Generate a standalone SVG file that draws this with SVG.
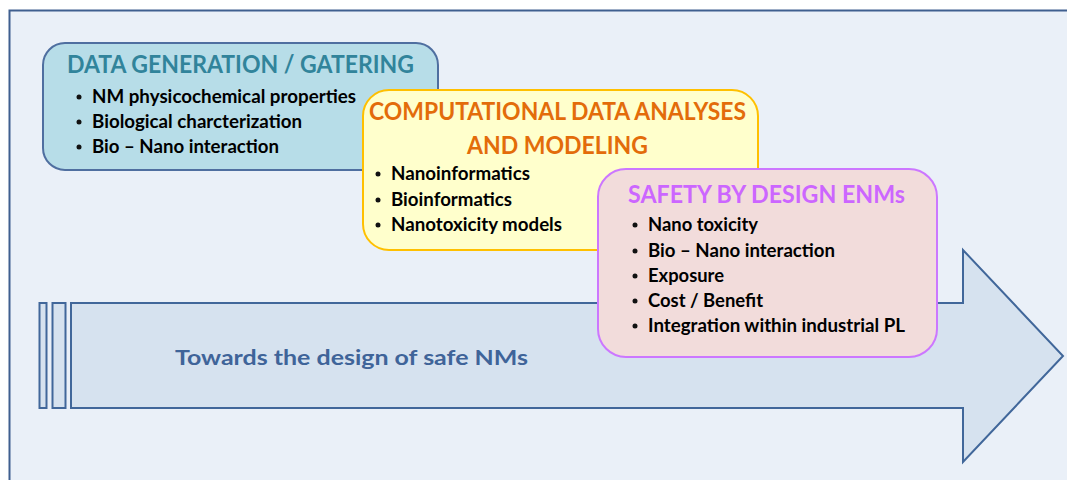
<svg xmlns="http://www.w3.org/2000/svg" width="1067" height="480" viewBox="0 0 1067 480">
<style>
text{font-family:Lato,"Open Sans","Liberation Sans",sans-serif;font-weight:bold}
.item{font-size:19px;fill:#000}
.dot{fill:#111}
.t1{font-size:24px;fill:#31849B}
.t2{font-size:25px;fill:#E36C0A}
.t3{font-size:24px;fill:#CC66FF}
</style>
<rect x="0" y="0" width="1067" height="480" fill="#fff"/>
<rect x="9.5" y="10.5" width="1070" height="480" fill="#EAF0F8" stroke="#3F5F8F" stroke-width="2"/>
<g id="connectors">
<g id="arrow" fill="#D6E2EF" stroke="#41679A" stroke-width="2">
<rect x="39.5" y="303" width="7" height="105"/>
<rect x="52.5" y="303" width="13" height="105"/>
<path d="M71 303 H963 V250 L1063 356 L963 462 V408 H71 Z"/>
</g>
<text x="175" y="365" font-size="21" fill="#3F6499" textLength="353" lengthAdjust="spacingAndGlyphs">Towards the design of safe NMs</text>
</g>
<g id="node-data">
<rect x="43" y="43" width="395" height="127" rx="22" fill="#B7DDE8" stroke="#4F6FA0" stroke-width="2"/>
<text class="t1" x="67" y="73" textLength="347" lengthAdjust="spacingAndGlyphs">DATA GENERATION / GATERING</text>
<circle class="dot" cx="79" cy="97" r="2.5"/>
<circle class="dot" cx="79" cy="122" r="2.5"/>
<circle class="dot" cx="79" cy="147" r="2.5"/>
<text class="item" x="92" y="103" textLength="264" lengthAdjust="spacingAndGlyphs">NM physicochemical properties</text>
<text class="item" x="92" y="128" textLength="210" lengthAdjust="spacingAndGlyphs">Biological charcterization</text>
<text class="item" x="92" y="153" textLength="187" lengthAdjust="spacingAndGlyphs">Bio – Nano interaction</text>
</g>
<g id="node-computational">
<rect x="363" y="90" width="395" height="160" rx="26" fill="#FFFFCC" stroke="#FFC000" stroke-width="2"/>
<text class="t2" x="369" y="120" textLength="377" lengthAdjust="spacingAndGlyphs">COMPUTATIONAL DATA ANALYSES</text>
<text class="t2" x="467" y="154" textLength="181" lengthAdjust="spacingAndGlyphs">AND MODELING</text>
<circle class="dot" cx="378" cy="174" r="2.5"/>
<circle class="dot" cx="378" cy="200" r="2.5"/>
<circle class="dot" cx="378" cy="225" r="2.5"/>
<text class="item" x="391" y="180" textLength="139" lengthAdjust="spacingAndGlyphs">Nanoinformatics</text>
<text class="item" x="391" y="206" textLength="121" lengthAdjust="spacingAndGlyphs">Bioinformatics</text>
<text class="item" x="391" y="231" textLength="171" lengthAdjust="spacingAndGlyphs">Nanotoxicity models</text>
</g>
<g id="node-safety">
<rect x="598" y="169" width="339" height="188" rx="28" fill="#F2DCDB" stroke="#CC77FF" stroke-width="2"/>
<text class="t3" x="628" y="203" textLength="277" lengthAdjust="spacingAndGlyphs">SAFETY BY DESIGN ENMs</text>
<circle class="dot" cx="635" cy="225" r="2.5"/>
<circle class="dot" cx="635" cy="251" r="2.5"/>
<circle class="dot" cx="635" cy="276" r="2.5"/>
<circle class="dot" cx="635" cy="301" r="2.5"/>
<circle class="dot" cx="635" cy="326" r="2.5"/>
<text class="item" x="648" y="231" textLength="110" lengthAdjust="spacingAndGlyphs">Nano toxicity</text>
<text class="item" x="648" y="257" textLength="187" lengthAdjust="spacingAndGlyphs">Bio – Nano interaction</text>
<text class="item" x="648" y="282" textLength="76" lengthAdjust="spacingAndGlyphs">Exposure</text>
<text class="item" x="648" y="307" textLength="115" lengthAdjust="spacingAndGlyphs">Cost / Benefit</text>
<text class="item" x="648" y="332" textLength="257" lengthAdjust="spacingAndGlyphs">Integration within industrial PL</text>
</g>
</svg>
